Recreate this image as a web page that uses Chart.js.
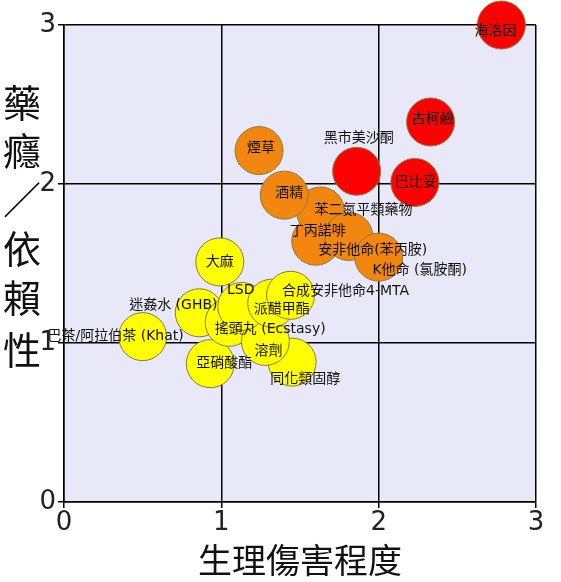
<!DOCTYPE html>
<html>
<head>
<meta charset="utf-8">
<script src="https://cdn.jsdelivr.net/npm/chart.js@4"></script>
<style>
  html, body { margin: 0; padding: 0; background: #fff; overflow: hidden; }
  #wrap { width: 561px; height: 582px; }
</style>
</head>
<body>
<div id="wrap"><canvas id="c"></canvas></div>
<script>
// drug names, physical harm (x), dependence (y), harm group
const drugs = ['巴茶/阿拉伯茶 (Khat)', '亞硝酸酯', '同化類固醇', '迷姦水 (GHB)', '搖頭丸 (Ecstasy)', '溶劑', 'LSD', '派醋甲酯',
  '合成安非他命4-MTA', '大麻', '丁丙諾啡', '苯二氮平類藥物', '安非他命(苯丙胺)', 'K他命 (氯胺酮)', '酒精', '煙草',
  '黑市美沙酮', '巴比妥', '古柯鹼', '海洛因'];
const physicalHarm = [0.50, 0.93, 1.45, 0.86, 1.05, 1.28, 1.13, 1.32, 1.44, 0.99, 1.60, 1.63, 1.81, 2.00, 1.40, 1.24, 1.86, 2.23, 2.33, 2.78];
const dependence = [1.04, 0.87, 0.88, 1.19, 1.13, 1.01, 1.23, 1.25, 1.30, 1.51, 1.64, 1.83, 1.67, 1.54, 1.93, 2.21, 2.08, 2.01, 2.39, 3.00];
const group = [0, 0, 0, 0, 0, 0, 0, 0, 0, 0, 1, 1, 1, 1, 1, 1, 2, 2, 2, 2];
const tickValues = [0, 1, 2, 3];

const groupColors = ['#ffff00', '#f2860e', '#ff0000'];
// label offsets in pixels from bubble centre
const labelOffsets = [[-27, 0], [14, 0], [13, 17], [-26, -7], [41, 7], [3, 10], [-1, -16], [10, 6],
  [55, -4], [0, 0], [2, -10], [43, -1], [24, 14], [41, 13], [5, -2], [2, -2],
  [2, -33], [1, 0], [2, -3], [-6, 6]];

const points = physicalHarm.map((x, i) => ({ x: x, y: dependence[i], r: 24 }));

const decor = {
  id: 'decor',
  beforeDraw(chart) {
    const { ctx, chartArea: a } = chart;
    ctx.save();
    ctx.fillStyle = '#e8e8f8';
    ctx.fillRect(a.left, a.top, a.right - a.left, a.bottom - a.top);
    ctx.restore();
  },
  afterDatasetsDraw(chart) {
    const { ctx, scales } = chart;
    ctx.save();
    ctx.fillStyle = '#111';
    ctx.font = '14px "DejaVu Sans", "Noto Sans CJK TC", sans-serif';
    ctx.textAlign = 'center';
    ctx.textBaseline = 'middle';
    drugs.forEach((name, i) => {
      const px = scales.x.getPixelForValue(physicalHarm[i]) + labelOffsets[i][0];
      const py = scales.y.getPixelForValue(dependence[i]) + labelOffsets[i][1];
      ctx.fillText(name, px, py);
    });
    // axis titles
    ctx.fillStyle = '#111';
    ctx.font = '34px "Noto Sans CJK TC", sans-serif';
    ctx.fillText('生理傷害程度', (scales.x.left + scales.x.right) / 2, 560);
    ctx.font = '38px "Noto Sans CJK TC", sans-serif';
    const ys = ['藥', '癮', '／', '依', '賴', '性'];
    const yPos = [103, 151, 200, 249, 298, 350];
    ys.forEach((ch, i) => ctx.fillText(ch, 22, yPos[i]));
    ctx.restore();
  }
};

new Chart(document.getElementById('c'), {
  type: 'bubble',
  data: {
    datasets: [{
      data: points,
      backgroundColor: group.map(g => groupColors[g]),
      borderColor: '#8a7a40',
      borderWidth: 1,
      clip: false
    }]
  },
  options: {
    responsive: true,
    maintainAspectRatio: false,
    animation: false,
    layout: { padding: { top: 8, right: -4, left: 0, bottom: 0 } },
    plugins: { legend: { display: false }, tooltip: { enabled: false } },
    scales: {
      x: {
        min: 0, max: 3,
        afterFit: s => { s.height = 80; },
        afterBuildTicks: s => { s.ticks = tickValues.map(v => ({ value: v })); },
        grid: { color: '#000', lineWidth: 1.5, drawTicks: true, tickLength: 6 },
        border: { color: '#000', width: 1.5 },
        ticks: { color: '#222', font: { size: 26, family: 'DejaVu Sans' }, padding: 0, maxRotation: 0 }
      },
      y: {
        min: 0, max: 3,
        afterFit: s => { s.width = 64; },
        afterBuildTicks: s => { s.ticks = tickValues.map(v => ({ value: v })); },
        grid: { color: '#000', lineWidth: 1.5, tickLength: 6 },
        border: { color: '#000', width: 1.5 },
        ticks: { color: '#222', font: { size: 26, family: 'DejaVu Sans' }, padding: 2 }
      }
    }
  },
  plugins: [decor]
});
</script>
</body>
</html>
